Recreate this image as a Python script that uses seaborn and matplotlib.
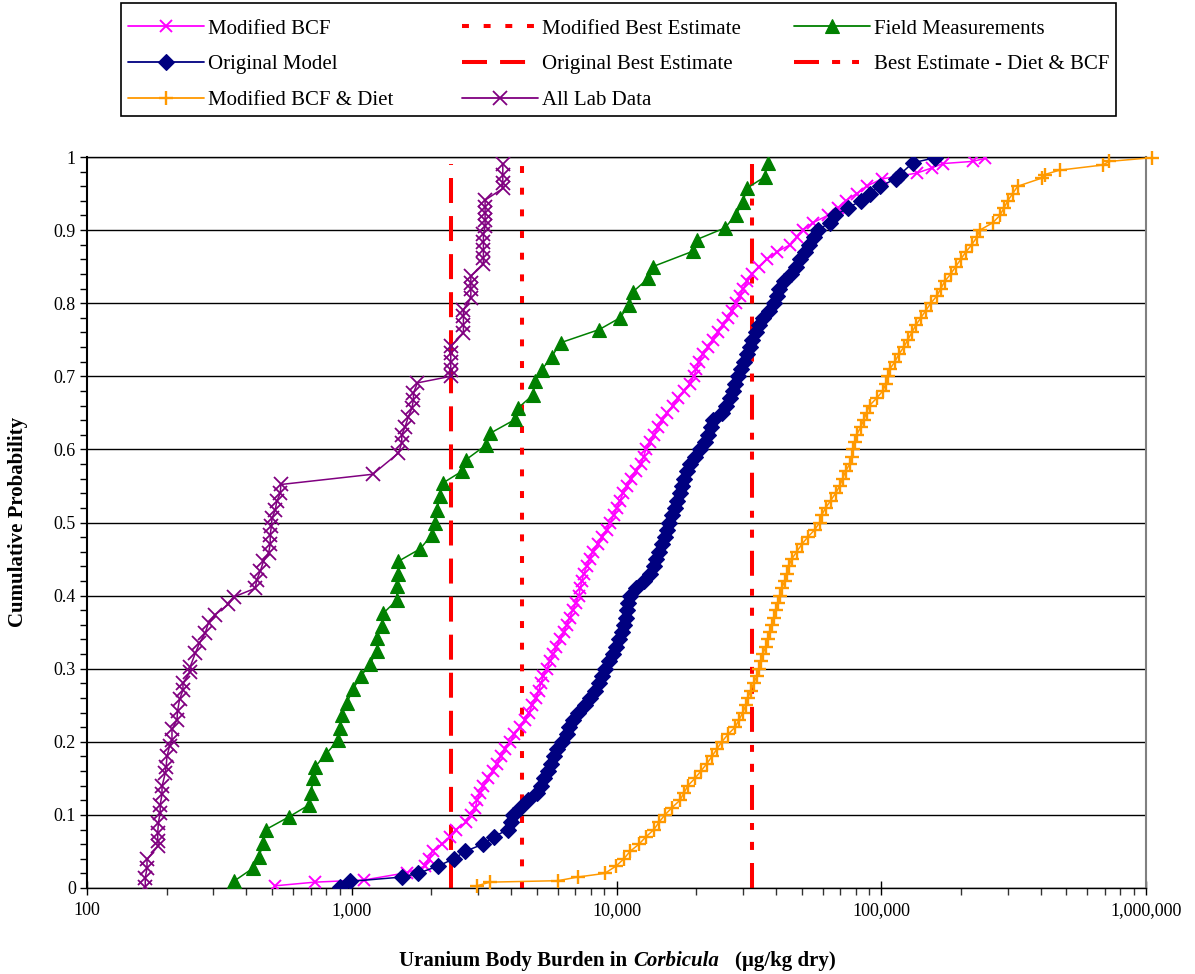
import numpy as np
import pandas as pd
import matplotlib
matplotlib.use("Agg")
import matplotlib.pyplot as plt
import seaborn as sns
from matplotlib.lines import Line2D
from matplotlib.patches import Rectangle
from matplotlib.offsetbox import TextArea, HPacker, AnchoredOffsetbox
from matplotlib.ticker import FixedLocator, FixedFormatter, NullFormatter, LogLocator, MultipleLocator

# ---------------- data ----------------
# probability levels at which the dense model curves were read
prob_levels = [0.02, 0.03, 0.04, 0.05, 0.06, 0.07, 0.08, 0.09,
               0.10, 0.11, 0.12, 0.13, 0.14, 0.15, 0.16, 0.17, 0.18, 0.19,
               0.20, 0.21, 0.22, 0.23, 0.24, 0.25, 0.26, 0.27, 0.28, 0.29,
               0.30, 0.31, 0.32, 0.33, 0.34, 0.35, 0.36, 0.37, 0.38, 0.39,
               0.40, 0.41, 0.42, 0.43, 0.44, 0.45, 0.46, 0.47, 0.48, 0.49,
               0.50, 0.51, 0.52, 0.53, 0.54, 0.55, 0.56, 0.57, 0.58, 0.59,
               0.60, 0.61, 0.62, 0.63, 0.64, 0.65, 0.66, 0.67, 0.68, 0.69,
               0.70, 0.71, 0.72, 0.73, 0.74, 0.75, 0.76, 0.77, 0.78, 0.79,
               0.80, 0.81, 0.82, 0.83, 0.84, 0.85, 0.86, 0.87, 0.88, 0.89,
               0.90, 0.91, 0.92, 0.93, 0.94, 0.95, 0.96, 0.97]

# Modified BCF
mbcf_low_p = [0.003, 0.008, 0.011, 0.021]
mbcf_low_x = [513, 726, 1114, 1618]
mbcf_mid_x = [1890, 1958, 2019, 2192, 2350, 2475, 2700,
              2820, 2932, 2971, 3049, 3143, 3269, 3414, 3534, 3659, 3788,
              3957, 4114, 4316, 4507, 4668, 4810, 4958, 5090, 5179, 5292,
              5456, 5600, 5776, 5925, 6107, 6323, 6490, 6662, 6838, 7018,
              7203, 7297, 7392, 7522, 7721, 7925, 8134, 8494, 8834, 9184,
              9466, 9756, 10040, 10310, 10580, 10960, 11340, 11840, 12370, 12650,
              12920, 13380, 13850, 14340, 14910, 15500, 16340, 17060, 17970, 18930,
              19600, 20030, 20470, 21190, 22150, 23120, 24140, 25220, 26460, 27260,
              28290, 29230, 30120, 31190, 32430, 34470, 36950, 40290, 45300, 47940,
              50490, 55090, 62750, 68440, 73340, 80700, 87980, 100500]
mbcf_high_p = [0.978, 0.985, 0.991, 0.994, 0.998]
mbcf_high_x = [136300, 155200, 170800, 221600, 245800]

# Original Model
orig_low_p = [0.002, 0.009, 0.015]
orig_low_x = [904, 986, 1549]
orig_mid_x = [1780, 2117, 2433, 2677, 3130, 3444, 3889, 3991,
              4061, 4316, 4627, 5028, 5179, 5315, 5503, 5649, 5798, 5950,
              6214, 6490, 6604, 6838, 7141, 7589, 7925, 8276, 8572, 8790,
              9025, 9347, 9670, 9960, 10220, 10490, 10670, 10860, 10950, 11050,
              11240, 11840, 12700, 13380, 13850, 14090, 14470, 14850, 15240, 15500,
              15770, 16200, 16630, 16920, 17360, 17660, 17970, 18440, 18930, 19780,
              20650, 21560, 22150, 22720, 23120, 24990, 25870, 26790, 27520, 28040,
              28810, 29470, 30250, 31050, 31870, 32430, 33570, 34470, 35690, 37600,
              39250, 40290, 40980, 42810, 45500, 47510, 49190, 51380, 53190, 55560,
              57560, 63800, 66650, 74650, 83550, 90300, 98800, 113500]
orig_high_p = [0.976, 0.992, 0.999]
orig_high_x = [117500, 131600, 159400]

# Modified BCF & Diet
diet_low_p = [0.003, 0.008, 0.010, 0.015, 0.020]
diet_low_x = [2971, 3325, 6003, 7141, 9025]
diet_mid_x = [9960, 10670, 11240, 12160, 12920, 13850, 14470,
              15240, 16200, 17360, 17970, 18610, 19780, 20830, 21940, 22920, 23940,
              24990, 26340, 28040, 29030, 30000, 30780, 31320, 32150, 32990, 33870,
              34470, 35070, 35690, 36630, 37270, 37920, 38580, 39250, 39940, 40640,
              41350, 42070, 43190, 43940, 44710, 45890, 47940, 50070, 52750, 56050,
              58530, 59550, 61660, 64400, 67250, 69650, 71470, 73340, 75940, 77280,
              77950, 79320, 80700, 83550, 85780, 87980, 90300, 96000, 101400, 104100,
              105900, 107800, 112600, 116500, 121700, 126000, 130500, 135100, 141100, 147400,
              153900, 162200, 167800, 173800, 183000, 191100, 199600, 208500, 219800, 229400,
              235700, 263700, 280400, 290500, 300400, 313700, 327500]
diet_high_p = [0.971, 0.976, 0.982, 0.989, 0.994, 0.999]
diet_high_x = [403300, 413900, 471700, 685100, 727800, 1050000]

# All Lab Data
lab_p = [0.002, 0.014, 0.027, 0.039, 0.058, 0.064, 0.075, 0.089, 0.103, 0.114,
         0.128, 0.139, 0.157, 0.166, 0.180, 0.194, 0.203, 0.217, 0.230, 0.242,
         0.258, 0.271, 0.280, 0.296, 0.303, 0.321, 0.335, 0.349, 0.363, 0.374,
         0.388, 0.398, 0.410, 0.422, 0.433, 0.447, 0.458, 0.470, 0.483, 0.495,
         0.506, 0.517, 0.529, 0.540, 0.552, 0.566, 0.595, 0.609, 0.620, 0.631,
         0.645, 0.656, 0.668, 0.677, 0.691, 0.700, 0.709, 0.720, 0.732, 0.741,
         0.759, 0.770, 0.782, 0.791, 0.807, 0.819, 0.828, 0.837, 0.853, 0.862,
         0.873, 0.884, 0.894, 0.905, 0.914, 0.923, 0.932, 0.941, 0.957, 0.964,
         0.976, 0.991]
lab_x = [166, 166, 168.5, 168.5, 186, 185, 185, 186, 189, 189,
         192, 192, 197.5, 199, 200.5, 205, 209.4, 209.4, 218.7, 219.8,
         223.7, 230.4, 230.4, 245.5, 245.5, 256.4, 266, 279.7, 287.8, 305,
         342, 357.6, 431.8, 438, 451, 464, 485, 492, 492, 497,
         500, 514, 521, 537, 540, 1200, 1501, 1545, 1545, 1591,
         1637, 1686, 1710, 1710, 1770, 2366, 2366, 2366, 2366, 2366,
         2641, 2641, 2641, 2641, 2817, 2817, 2817, 2817, 3142, 3142,
         3142, 3142, 3142, 3189, 3189, 3189, 3189, 3189, 3720, 3720,
         3720, 3720]

# Field Measurements
field_p = [0.009, 0.027, 0.042, 0.061, 0.080, 0.097, 0.114, 0.130, 0.150, 0.166,
           0.183, 0.203, 0.219, 0.237, 0.253, 0.272, 0.290, 0.307, 0.324, 0.342,
           0.359, 0.376, 0.394, 0.413, 0.429, 0.447, 0.464, 0.483, 0.500, 0.517,
           0.536, 0.554, 0.570, 0.586, 0.606, 0.622, 0.641, 0.657, 0.675, 0.693,
           0.709, 0.727, 0.746, 0.764, 0.780, 0.798, 0.816, 0.834, 0.850, 0.871,
           0.887, 0.903, 0.921, 0.939, 0.957, 0.973, 0.992]
field_x = [358, 423, 445, 464, 474, 577, 692, 701, 717, 728,
           798, 891, 904, 918, 958, 1010, 1085, 1174, 1244, 1244,
           1299, 1318, 1480, 1480, 1501, 1501, 1813, 2006, 2065, 2096,
           2157, 2208, 2604, 2703, 3217, 3331, 4140, 4260, 4853, 4925,
           5221, 5692, 6158, 8612, 10310, 11180, 11570, 13180, 13700, 19400,
           20080, 25680, 28260, 30100, 31010, 36360, 37220]

# Best-estimate vertical lines
best_names = ["Modified Best Estimate", "Original Best Estimate", "Best Estimate - Diet & BCF"]
best_values = [4390, 2370, 32400]
best_p_range = [0.0, 0.99]

x_tick_values = [100, 1000, 10000, 100000, 1000000]
x_tick_labels = ["100", "1,000", "10,000", "100,000", "1,000,000"]
y_tick_values = [0, 0.1, 0.2, 0.3, 0.4, 0.5, 0.6, 0.7, 0.8, 0.9, 1.0]
y_tick_labels = ["0", "0.1", "0.2", "0.3", "0.4", "0.5", "0.6", "0.7", "0.8", "0.9", "1"]

# ---------------- assemble series ----------------
mbcf_p = mbcf_low_p + prob_levels[1:] + mbcf_high_p
mbcf_x = mbcf_low_x + mbcf_mid_x + mbcf_high_x
orig_p = orig_low_p + prob_levels + orig_high_p
orig_x = orig_low_x + orig_mid_x + orig_high_x
diet_p = diet_low_p + prob_levels[1:-1] + diet_high_p
diet_x = diet_low_x + diet_mid_x + diet_high_x
assert len(mbcf_p) == len(mbcf_x)
assert len(orig_p) == len(orig_x)
assert len(diet_p) == len(diet_x)
assert len(lab_p) == len(lab_x)
assert len(field_p) == len(field_x)

# ---------------- style ----------------
sns.set_theme(style="white")
plt.rcParams['font.family'] = ['Liberation Serif', 'DejaVu Serif']
plt.rcParams['lines.scale_dashes'] = False
plt.rcParams['text.color'] = 'black'
plt.rcParams['axes.labelcolor'] = 'black'
plt.rcParams['xtick.color'] = 'black'
plt.rcParams['ytick.color'] = 'black'

MAG = '#FF00FF'
NAVY = '#000080'
ORANGE = '#FF9900'
PURPLE = '#800080'
GREEN = '#008000'
RED = '#FF0000'

FW, FH = 1195, 974
def fx(px):
    return px / FW
def fy(py):
    return 1 - py / FH

fig = plt.figure(figsize=(FW / 100, FH / 100), dpi=100)
fig.patch.set_facecolor('white')
ax = fig.add_axes([fx(87), fy(888), fx(1146) - fx(87), fy(157) - fy(888)])
ax.set_facecolor('white')
ax.set_xscale('log')
ax.set_xlim(100, 1e6)
ax.set_ylim(0, 1)

# vertical best-estimate lines (beneath the data)
dot_style = (0, (5.0, 10.6))
dash_style = (0, (18.0, 9.4))
dashdot_style = (0, (18.0, 9.4, 5.8, 8.6, 5.0, 9.4))
best_styles = [dot_style, dash_style, dashdot_style]
for xv, ls in zip(best_values, best_styles):
    ax.plot([xv, xv], best_p_range, color=RED, lw=2.9, linestyle=ls,
            dash_capstyle='butt', zorder=2)

def draw(xv, pv, color, marker, ms, mew, z, lw=1.1, clip=True):
    df = pd.DataFrame({"burden": np.asarray(xv, float), "prob": np.asarray(pv, float)})
    sns.lineplot(data=df, x="burden", y="prob", ax=ax, color=color, sort=False,
                 estimator=None, legend=False, marker=marker, markersize=ms,
                 markeredgewidth=mew, markeredgecolor=color, markerfacecolor=color,
                 linewidth=lw, zorder=z, clip_on=clip)

MS_MAG, MS_NAVY, MS_ORANGE, MS_LAB, MS_FIELD = 8, 8, 10.5, 10, 9.5
draw(mbcf_x, mbcf_p, MAG, 'x', MS_MAG, 1.4, 3)
draw(orig_x, orig_p, NAVY, 'D', MS_NAVY, 0.8, 4)
draw(diet_x, diet_p, ORANGE, '+', MS_ORANGE, 1.7, 3, clip=False)
draw(lab_x, lab_p, PURPLE, 'x', MS_LAB, 1.3, 5)
draw(field_x, field_p, GREEN, '^', MS_FIELD, 0.8, 5)

ax.set_xlabel("")
ax.set_ylabel("")

# grid
ax.set_axisbelow(True)
ax.yaxis.grid(True, which='major', color='black', linewidth=1.0)
ax.xaxis.grid(False)

# ticks
ax.xaxis.set_major_locator(FixedLocator(x_tick_values))
ax.xaxis.set_major_formatter(FixedFormatter(x_tick_labels))
ax.xaxis.set_minor_locator(LogLocator(base=10, subs=np.arange(2, 10)))
ax.xaxis.set_minor_formatter(NullFormatter())
ax.yaxis.set_major_locator(FixedLocator(y_tick_values))
ax.yaxis.set_major_formatter(FixedFormatter(y_tick_labels))
ax.yaxis.set_minor_locator(MultipleLocator(0.02))
ax.tick_params(axis='x', which='major', direction='inout', length=10, width=1,
               bottom=True, labelsize=13, pad=5, color='black', labelcolor='black')
ax.tick_params(axis='x', which='minor', direction='out', length=5, width=1,
               bottom=True, color='#333333')
ax.tick_params(axis='y', which='both', direction='out', length=5, width=1,
               left=True, labelsize=13, pad=3, color='black', labelcolor='black')

for side in ['left', 'bottom', 'top']:
    ax.spines[side].set_color('black')
    ax.spines[side].set_linewidth(1.0)
ax.spines['left'].set_linewidth(1.5)
ax.spines['right'].set_color('#808080')
ax.spines['right'].set_linewidth(1.5)

# axis titles
fig.text(fx(18), fy(522), "Cumulative Probability", rotation=90, ha='center', va='center',
         fontsize=15, fontweight='bold')
bold = dict(fontsize=15, fontweight='bold', color='black')
bolditalic = dict(fontsize=15, fontweight='bold', fontstyle='italic', color='black')
t1 = TextArea("Uranium Body Burden in", textprops=bold)
t2 = TextArea("Corbicula", textprops=bolditalic)
t3 = TextArea("(\u00b5g/kg dry)", textprops=bold)
inner = HPacker(children=[t1, t2], sep=5, align='baseline', pad=0)
outer = HPacker(children=[inner, t3], sep=11, align='baseline', pad=0)
xlab = AnchoredOffsetbox(loc='center', child=outer, pad=0, borderpad=0, frameon=False,
                         bbox_to_anchor=(fx(617), fy(961)), bbox_transform=fig.transFigure)
fig.add_artist(xlab)

# legend
h_mbcf = Line2D([], [], color=MAG, marker='x', ms=MS_MAG, mew=1.4, lw=1.3)
h_orig = Line2D([], [], color=NAVY, marker='D', ms=MS_NAVY, mew=0.8, lw=1.3)
h_diet = Line2D([], [], color=ORANGE, marker='+', ms=MS_ORANGE, mew=1.7, lw=1.3)
h_mbe = Line2D([], [], color=RED, lw=2.9, linestyle=dot_style)
h_obe = Line2D([], [], color=RED, lw=2.9, linestyle=dash_style)
h_lab = Line2D([], [], color=PURPLE, marker='x', ms=MS_LAB, mew=1.3, lw=1.3)
h_field = Line2D([], [], color=GREEN, marker='^', ms=MS_FIELD, mew=0.8, lw=1.3)
h_bed = Line2D([], [], color=RED, lw=2.9, linestyle=dashdot_style)

leg_fs = 15
em_px = leg_fs * 100 / 72
columns = [
    ([h_mbcf, h_orig, h_diet], ["Modified BCF", "Original Model", "Modified BCF & Diet"], 128),
    ([h_mbe, h_obe, h_lab], ["Modified Best Estimate", "Original Best Estimate", "All Lab Data"], 462),
    ([h_field, h_bed], ["Field Measurements", "Best Estimate - Diet & BCF"], 794),
]
for hs, labs, x0 in columns:
    fig.legend(hs, labs, loc='upper left', bbox_to_anchor=(fx(x0), fy(19)),
               bbox_transform=fig.transFigure, frameon=False, fontsize=leg_fs,
               handlelength=76 / em_px, handletextpad=4 / em_px, labelspacing=0.78,
               borderpad=0, borderaxespad=0, numpoints=1)
fig.add_artist(Rectangle((fx(121), fy(116)), fx(1116) - fx(121), fy(3) - fy(116),
                         transform=fig.transFigure, fill=False, edgecolor='black', lw=1.2))

fig.savefig("out.png", dpi=100, facecolor='white')
